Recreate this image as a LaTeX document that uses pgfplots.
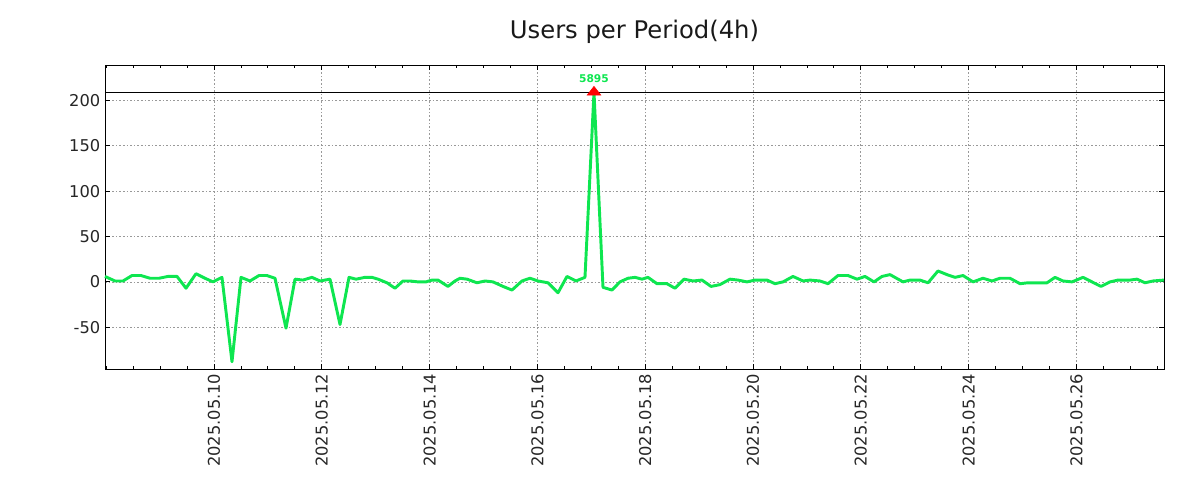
\documentclass[border=0pt]{standalone}
\usepackage{pgfplots}
\pgfplotsset{compat=1.18}
\usepackage{fontspec}
\setmainfont{DejaVu Sans}
\definecolor{lgreen}{RGB}{14,230,80}
\begin{document}
\begin{tikzpicture}
\path[use as bounding box] (-78.75pt,-98.25pt) rectangle (821.25pt,276.75pt);
\begin{axis}[
  at={(0,0)}, anchor=south west,
  scale only axis, width=794.25pt, height=228pt,
  xmin=7.978, xmax=27.625, ymin=-96, ymax=239,
  xtick={10,12,...,26},
  xticklabels={2025.05.10,2025.05.12,2025.05.14,2025.05.16,2025.05.18,2025.05.20,2025.05.22,2025.05.24,2025.05.26},
  minor xtick={8,8.5,9,9.5,10.5,11,11.5,12.5,13,13.5,14.5,15,15.5,16.5,17,17.5,18.5,19,19.5,20.5,21,21.5,22.5,23,23.5,24.5,25,25.5,26.5,27,27.5},
  ytick={-50,0,50,100,150,200},
  xticklabel style={rotate=90, anchor=east, font=\fontsize{12.2}{14}\selectfont, color=black!85},
  yticklabel style={font=\fontsize{12.2}{14}\selectfont, color=black!85},
  /pgf/number format/assume math mode=true,
  tick align=inside,
  major tick length=3.5pt, minor tick length=2.2pt,
  every tick/.style={black, line width=0.6pt},
  axis line style={black, line width=0.6pt},
  xmajorgrids, ymajorgrids,
  grid style={gray!80, dash pattern=on 1.2pt off 1.5pt, line width=0.5pt},
  title={Users per Period(4h)},
  title style={at={(0.5,1)}, anchor=center, yshift=19pt, font=\fontsize{18.2}{21}\selectfont, color=black!90},
  clip=false,
]
\addplot[black, line width=0.6pt, forget plot] coordinates {(7.978,209) (27.625,209)};
\addplot[lgreen, line width=2.2pt, line join=round] coordinates {
(7.978,6) (8.163,1) (8.312,1) (8.479,7) (8.646,7) (8.813,4) (8.980,4) (9.147,6) (9.314,6) (9.481,-7)
(9.666,9) (9.833,4) (9.981,0) (10.148,5) (10.334,-88) (10.501,5) (10.668,1) (10.835,7) (10.983,7) (11.132,4)
(11.336,-51) (11.503,3) (11.651,2) (11.818,5) (11.967,1) (12.152,3) (12.338,-47) (12.505,5) (12.635,3) (12.801,5)
(12.931,5) (13.043,3) (13.210,-1) (13.358,-7) (13.506,1) (13.636,1) (13.785,0) (13.933,0) (14.045,2) (14.156,2)
(14.341,-5) (14.471,1) (14.564,4) (14.694,3) (14.879,-1) (15.028,1) (15.176,0) (15.362,-5) (15.529,-9) (15.714,1)
(15.863,4) (16.011,1) (16.197,-1) (16.382,-12) (16.549,6) (16.716,1) (16.883,5) (17.050,209) (17.217,-6) (17.384,-9)
(17.532,0) (17.681,4) (17.811,5) (17.941,3) (18.052,5) (18.219,-2) (18.404,-2) (18.553,-7) (18.720,3) (18.887,1)
(19.054,2) (19.221,-5) (19.388,-3) (19.573,3) (19.722,2) (19.889,0) (20.037,2) (20.260,2) (20.408,-2) (20.557,0)
(20.742,6) (20.928,1) (21.058,2) (21.243,1) (21.391,-2) (21.577,7) (21.763,7) (21.929,3) (22.078,6) (22.245,0)
(22.393,6) (22.542,8) (22.783,0) (22.913,2) (23.098,2) (23.247,-1) (23.432,12) (23.599,8) (23.748,5) (23.896,7)
(24.082,0) (24.267,4) (24.434,1) (24.583,4) (24.768,4) (24.954,-2) (25.102,-1) (25.455,-1) (25.603,5) (25.751,1)
(25.918,0) (26.122,5) (26.289,0) (26.456,-5) (26.623,0) (26.772,2) (26.994,2) (27.124,3) (27.273,-1) (27.421,1)
(27.625,2)
};
\addplot[only marks, mark=triangle*, mark size=4.4pt, mark options={xscale=1.35}, color=red,
  point meta=explicit symbolic, nodes near coords,
  nodes near coords style={color=lgreen, font=\bfseries\fontsize{8}{9}\selectfont, yshift=3.5pt}]
  coordinates {(17.050,209) [5895]};
\end{axis}
\end{tikzpicture}
\end{document}
